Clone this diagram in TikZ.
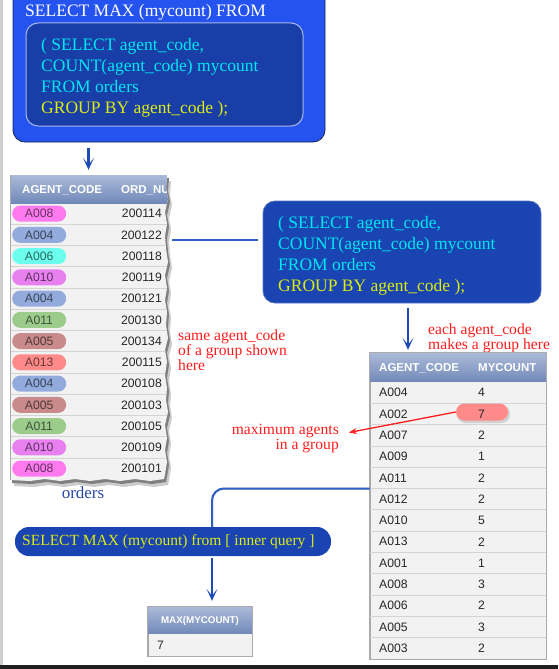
\documentclass[tikz,border=0pt]{standalone}
\usepackage{fontspec}
\setmainfont{Liberation Serif}
\setsansfont{Liberation Sans}
\usetikzlibrary{arrows.meta}
\definecolor{sqBright}{HTML}{2553EF}
\definecolor{sqEdge}{HTML}{15244F}
\definecolor{sqDeep}{HTML}{1A3EA8}
\definecolor{sqGlow}{HTML}{A8B8EE}
\definecolor{sqMid}{HTML}{1A44B2}
\definecolor{sqCyan}{HTML}{00E5F0}
\definecolor{sqYellow}{HTML}{DCEB12}
\definecolor{sqRed}{HTML}{FF1C1C}
\definecolor{sqArrow}{HTML}{1E4CB4}
\definecolor{sqLink}{HTML}{2E5FC4}
\definecolor{sqNavy}{HTML}{2846A8}
\definecolor{sqHeadTop}{HTML}{ABBAD8}
\definecolor{sqHeadBot}{HTML}{7189B9}
\definecolor{sqRow}{HTML}{F2F2F2}
\definecolor{sqRule}{HTML}{D4D4D4}
\definecolor{sqFrame}{HTML}{AAAAAA}
\definecolor{sqBorder}{HTML}{CFCFCF}
\definecolor{sqPink}{HTML}{FF7AEE}
\definecolor{sqSlate}{HTML}{92AADC}
\definecolor{sqAqua}{HTML}{6CFFEE}
\definecolor{sqViolet}{HTML}{E880F0}
\definecolor{sqGreen}{HTML}{9CCC8C}
\definecolor{sqRose}{HTML}{C88A8A}
\definecolor{sqSalmon}{HTML}{FF8A8A}
\tikzset{
  sq outer/.style={draw=sqEdge, fill=sqBright, line width=0.8pt, rounded corners=12pt, inner sep=0pt},
  sq inner/.style={draw=sqGlow, fill=sqDeep, line width=1pt, rounded corners=12pt, inner sep=0pt},
  sq mid/.style={draw=sqMid!75!white, fill=sqMid, line width=0.8pt, rounded corners=12pt, inner sep=0pt},
  sq band/.style={fill=sqMid, rounded corners=14pt, inner sep=0pt},
  sq code/.style={font=\fontsize{17.5}{21}\selectfont, text=sqCyan, align=left, anchor=north west, inner sep=0pt},
  sq flow/.style={draw=sqArrow, line width=2.2pt, -{Stealth[length=12pt,width=11pt,inset=7pt]}},
  sq link/.style={draw=sqLink, line width=2pt},
  sq pointer/.style={draw=sqRed, line width=1.3pt, -{Stealth[length=8pt,width=6pt]}},
  sq note/.style={font=\fontsize{15.6}{13.5}\selectfont, text=sqRed, inner sep=0pt},
  sq head/.style={font=\sffamily\bfseries\fontsize{11.5}{12}\selectfont, text=white, inner sep=0pt, anchor=west},
  sq cell/.style={font=\sffamily\fontsize{12.2}{13}\selectfont, text=black!85, inner sep=0pt, anchor=west},
  sq pill/.style={sq cell, rounded corners=8pt, minimum width=54pt, minimum height=16pt},
  sq rule/.style={draw=sqRule, line width=0.8pt},
}
\def\tornEdge{(10,175) -- (167,175) -- (166,188) -- (168,199) -- (165,212) -- (167,224) -- (165,236)
  -- (166,249) -- (168,262) -- (165,275) -- (167,288) -- (165,300) -- (167,312) -- (166,325)
  -- (168,338) -- (165,350) -- (167,362) -- (165,375) -- (167,388) -- (166,400) -- (168,412)
  -- (165,425) -- (167,438) -- (165,450) -- (167,462) -- (165,474) -- (164,479) -- (150,481)
  -- (135,479) -- (120,481) -- (105,479) -- (90,481) -- (75,479) -- (60,481) -- (45,479)
  -- (30,481) -- (10,480) -- cycle}

\begin{document}
\begin{tikzpicture}[x=1pt,y=-1pt]
  \useasboundingbox (0,0) rectangle (558,669);
  % page edges
  \fill[sqBorder] (0,0) rectangle (3,665);
  \fill[black!88] (0,665) rectangle (558,669);

  % outer query with the inner query in it
  \node[sq outer, minimum width=312pt, minimum height=154pt] (outq) at (169,65) {};
  \node[sq code, text=white] (outqText) at (25,4) {SELECT MAX (mycount) FROM};
  \node[sq inner, minimum width=277pt, minimum height=103pt] (inq) at (164.5,74.5) {};
  \node[sq code] (inqText) at (41,38) {( SELECT agent\_code,\\COUNT(agent\_code) mycount\\FROM orders\\{\color{sqYellow}GROUP BY agent\_code );}};

  % orders table, torn on the right
  \fill[black!20, shift={(4,6)}] \tornEdge;
  \fill[black!50, shift={(2,3)}] \tornEdge;
  \fill[sqRow] \tornEdge;
  \begin{scope}
    \clip \tornEdge;
    \shade[top color=sqHeadTop, bottom color=sqHeadBot] (10,175) rectangle (170,203);
    \foreach \i in {1,...,12}
      \draw[sq rule] (10,203+21.25*\i) -- (170,203+21.25*\i);
    \node[sq head] (ordHeadNum) at (121,190) {ORD\_NUM};
  \end{scope}
  \draw[sqFrame] (10,175) -- (10,480);
  \node[minimum width=157pt, minimum height=305pt, inner sep=0pt] (ordTab) at (88.5,327.5) {};
  \node[sq head] (ordHeadCode) at (22,190) {AGENT\_CODE};
  \foreach \code/\num/\tone [count=\i] in {A008/200114/sqPink, A004/200122/sqSlate, A006/200118/sqAqua,
      A010/200119/sqViolet, A004/200121/sqSlate, A011/200130/sqGreen, A005/200134/sqRose,
      A013/200115/sqSalmon, A004/200108/sqSlate, A005/200103/sqRose, A011/200105/sqGreen,
      A010/200109/sqViolet, A008/200101/sqPink} {
    \node[sq pill, fill=\tone, text=\tone!40!black] (ordCode\i) at (12,192.35+21.25*\i) {\code};
    \node[sq cell, anchor=east] (ordNum\i) at (162,192.35+21.25*\i) {\num};
  }
  \node[font=\fontsize{17}{20}\selectfont, text=sqNavy, inner sep=0pt] (ordLabel) at (83,493) {orders};
  \draw[sq flow, shorten <=6pt, shorten >=5pt] (outq.south -| ordTab.north) -- (ordTab.north);

  % inner query on its own
  \node[sq mid, minimum width=278pt, minimum height=102pt] (midq) at (402,252) {};
  \node[sq code] (midqText) at (278,216) {( SELECT agent\_code,\\COUNT(agent\_code) mycount\\FROM orders\\{\color{sqYellow}GROUP BY agent\_code );}};
  \coordinate (midTap) at ([yshift=12pt]midq.west);
  \draw[sq link, shorten <=5pt, shorten >=5pt] (midTap) -- (midTap -| ordTab.east);

  % notes
  \node[sq note, anchor=north west, align=left] (sameNote) at (178,329) {same agent\_code\\of a group shown\\here};
  \node[sq note, anchor=north west, align=left] (eachNote) at (428,323) {each agent\_code\\makes a group here};
  \node[sq note, anchor=north east, align=right] (maxNote) at (339,424) {maximum agents\\in a group};

  % grouped table
  \node[draw=sqFrame, fill=sqRow, minimum width=176pt, minimum height=306pt, inner sep=0pt] (grpTab) at (458,506) {};
  \shade[top color=sqHeadTop, bottom color=sqHeadBot] (grpTab.north west) rectangle ([yshift=-29pt]grpTab.north east);
  \foreach \i in {1,...,12}
    \draw[sq rule] (370,382+21.3*\i) -- (546,382+21.3*\i);
  \draw[sqFrame, line width=1pt] (grpTab.south west) rectangle (grpTab.north east);
  \node[sq head] (grpHeadCode) at (379,368) {AGENT\_CODE};
  \node[sq head] (grpHeadCnt) at (478,368) {MYCOUNT};
  \fill[black!18, rounded corners=8.5pt] (457,405) rectangle (510,423);
  \node[fill=sqSalmon, rounded corners=8.5pt, minimum width=52pt, minimum height=17pt, inner sep=0pt] (maxPill) at (482,412) {};
  \foreach \code/\cnt [count=\i] in {A004/4, A002/7, A007/2, A009/1, A011/2, A012/2, A010/5,
      A013/2, A001/1, A008/3, A006/2, A005/3, A003/2} {
    \node[sq cell] (grpCode\i) at (379,371.35+21.3*\i) {\code};
    \node[sq cell] (grpCnt\i) at (478,371.35+21.3*\i) {\cnt};
  }
  \coordinate (midDrop) at ([xshift=6pt]midq.south);
  \draw[sq flow, shorten <=5pt, shorten >=3pt] (midDrop) -- (midDrop |- grpTab.north);
  \draw[sq pointer, shorten >=10pt] (maxPill.west) -- ([yshift=4pt]maxNote.east);

  % outer select on the result
  \node[sq band, minimum width=316pt, minimum height=29pt] (selq) at (173,541.5) {};
  \node[sq code, anchor=west, text=sqYellow, font=\fontsize{15.5}{18}\selectfont] (selqText) at (22,542) {SELECT MAX (mycount) from [ inner query ]};

  % result table
  \node[draw=sqFrame, fill=sqRow, minimum width=104pt, minimum height=49pt, inner sep=0pt] (maxTab) at (200,631.5) {};
  \shade[top color=sqHeadTop, bottom color=sqHeadBot] (maxTab.north west) rectangle ([yshift=-27pt]maxTab.north east);
  \draw[sqFrame, line width=1pt] (maxTab.south west) rectangle (maxTab.north east);
  \node[sq head, anchor=center, font=\sffamily\bfseries\fontsize{9.8}{12}\selectfont] (maxHead) at (200,620.5) {MAX(MYCOUNT)};
  \node[sq cell] (maxCell) at (157,645) {7};

  \coordinate (grpJoint) at (370,488.5);
  \coordinate (spine) at ([xshift=12pt]maxTab.north);
  \draw[black!20, line width=2pt, rounded corners=12pt, shift={(1.5,2)}] (grpJoint) -| (spine |- selq.north);
  \draw[sq link, rounded corners=12pt] (grpJoint) -| (spine |- selq.north);
  \draw[sq flow, shorten <=2pt, shorten >=6pt] (spine |- selq.south) -- (spine);
\end{tikzpicture}
\end{document}
